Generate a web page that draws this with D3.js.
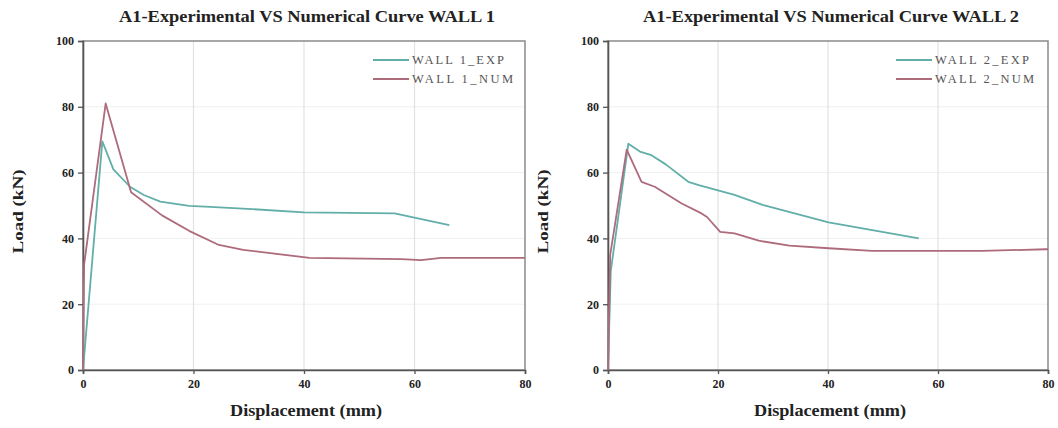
<!DOCTYPE html>
<html>
<head>
<meta charset="utf-8">
<script src="https://cdn.jsdelivr.net/npm/d3@7"></script>
<style>
  html, body { margin: 0; padding: 0; background: #fff; }
  svg { display: block; }
  text { font-family: "Liberation Serif", "Times New Roman", serif; }
</style>
</head>
<body>
<svg id="chart" width="1058" height="428"></svg>
<script>
// ---- Data ----
const titles = ["A1-Experimental VS Numerical Curve WALL 1", "A1-Experimental VS Numerical Curve WALL 2"];
const expLabels = ["WALL 1_EXP", "WALL 2_EXP"];
const numLabels = ["WALL 1_NUM", "WALL 2_NUM"];
const xTicks = [0, 20, 40, 60, 80];
const yTicks = [0, 20, 40, 60, 80, 100];
const xLabel = "Displacement (mm)";
const yLabel = "Load (kN)";

const wall1Exp = [[0,0],[3.5,69.5],[5.5,61],[8.5,55.7],[11,53.2],[14,51.2],[19.2,49.9],[23,49.6],[30.6,48.9],[40,47.9],[56.4,47.6],[66.3,44]];
const wall1Num = [[0,0],[0.2,32],[4.1,81],[8.7,54],[14.3,47],[19.2,42.3],[24.6,38],[29,36.5],[38.4,34.6],[41,34.1],[57.6,33.7],[61.2,33.4],[64.8,34.1],[80,34.1]];
const wall2Exp = [[0,0],[0.5,30],[3.7,68.8],[5.8,66.4],[7.9,65.3],[10.5,62.5],[14.6,57.2],[16.5,56.2],[23,53.2],[28.1,50.2],[40.1,44.9],[56.5,40]];
const wall2Num = [[0,0],[0.4,35],[3.4,67],[6.1,57.2],[8.5,55.7],[13.4,50.6],[17,47.6],[18,46.5],[20.4,42],[23,41.5],[27.4,39.3],[33,37.8],[40.1,37],[48,36.2],[68,36.2],[79.6,36.7],[80,36.7]];

const expSeries = [wall1Exp, wall2Exp];
const numSeries = [wall1Num, wall2Num];

// ---- Styles ----
const EXP_COLOR = "#62aea8";
const NUM_COLOR = "#ad6b7b";

const svg = d3.select("#chart");
const panels = [
  { left: 83, right: 525, top: 41, bottom: 370, legW: [92, 101] },
  { left: 608, right: 1048, top: 41, bottom: 370, legW: [94, 99] }
];

panels.forEach((p, i) => {
  const x = d3.scaleLinear().domain([0, 80]).range([p.left, p.right]);
  const y = d3.scaleLinear().domain([0, 100]).range([p.bottom, p.top]);
  const g = svg.append("g");

  // grid
  g.selectAll(".hgrid").data(yTicks.filter(t => t > 0 && t < 100)).enter()
    .append("line")
    .attr("x1", p.left).attr("x2", p.right)
    .attr("y1", d => y(d)).attr("y2", d => y(d))
    .attr("stroke", "#f0f0f0").attr("stroke-width", 1);
  g.selectAll(".vgrid").data(xTicks.filter(t => t > 0 && t < 80)).enter()
    .append("line")
    .attr("x1", d => x(d)).attr("x2", d => x(d))
    .attr("y1", p.top).attr("y2", p.bottom)
    .attr("stroke", "#e2e2e2").attr("stroke-width", 1.2);

  // frame
  g.append("rect")
    .attr("x", p.left).attr("y", p.top)
    .attr("width", p.right - p.left).attr("height", p.bottom - p.top)
    .attr("fill", "none").attr("stroke", "#8a8a8a").attr("stroke-width", 1.5);

  // axes
  const xAxis = d3.axisBottom(x).tickValues(xTicks).tickSize(4).tickPadding(5).tickFormat(d3.format("d"));
  const yAxis = d3.axisLeft(y).tickValues(yTicks).tickSize(5).tickPadding(4).tickFormat(d3.format("d"));
  const gx = g.append("g").attr("transform", `translate(0,${p.bottom})`).call(xAxis);
  const gy = g.append("g").attr("transform", `translate(${p.left},0)`).call(yAxis);
  [gx, gy].forEach(ax => {
    ax.select(".domain").attr("stroke", "#555").attr("stroke-width", 1.6);
    ax.selectAll(".tick line").attr("stroke", "#555").attr("stroke-width", 1.3);
    ax.selectAll(".tick text")
      .attr("fill", "#222")
      .style("font-family", "'Liberation Serif', serif")
      .style("font-weight", "bold")
      .style("font-size", "12px");
  });

  // lines
  const line = d3.line().x(d => x(d[0])).y(d => y(d[1]));
  g.append("path").datum(expSeries[i])
    .attr("d", line).attr("fill", "none")
    .attr("stroke", EXP_COLOR).attr("stroke-width", 1.8).attr("stroke-linejoin", "round");
  g.append("path").datum(numSeries[i])
    .attr("d", line).attr("fill", "none")
    .attr("stroke", NUM_COLOR).attr("stroke-width", 1.8).attr("stroke-linejoin", "round");

  // title
  g.append("text")
    .attr("x", (p.left + p.right) / 2 + 3).attr("y", 22)
    .attr("text-anchor", "middle")
    .attr("textLength", 376).attr("lengthAdjust", "spacingAndGlyphs")
    .style("font-weight", "bold").style("font-size", "16px").attr("fill", "#222")
    .text(titles[i]);

  // x label
  g.append("text")
    .attr("x", (p.left + p.right) / 2 + 2).attr("y", 416)
    .attr("text-anchor", "middle")
    .attr("textLength", 152).attr("lengthAdjust", "spacingAndGlyphs")
    .style("font-weight", "bold").style("font-size", "16px").attr("fill", "#222")
    .text(xLabel);

  // y label
  g.append("text")
    .attr("transform", `translate(${p.left - 60},${(p.top + p.bottom) / 2 + 6}) rotate(-90)`)
    .attr("text-anchor", "middle")
    .attr("textLength", 84).attr("lengthAdjust", "spacingAndGlyphs")
    .style("font-weight", "bold").style("font-size", "15px").attr("fill", "#222")
    .text(yLabel);

  // legend
  const lx = p.right - 152, ly1 = 60, ly2 = 79;
  [[expLabels[i], EXP_COLOR, ly1, p.legW[0]], [numLabels[i], NUM_COLOR, ly2, p.legW[1]]].forEach(([lab, col, ly, w]) => {
    g.append("line")
      .attr("x1", lx).attr("x2", lx + 36).attr("y1", ly).attr("y2", ly)
      .attr("stroke", col).attr("stroke-width", 1.8);
    g.append("text")
      .attr("x", lx + 39).attr("y", ly + 4)
      .attr("textLength", w).attr("lengthAdjust", "spacing")
      .style("font-size", "12.5px").attr("fill", "#555")
      .text(lab);
  });
});
</script>
</body>
</html>
